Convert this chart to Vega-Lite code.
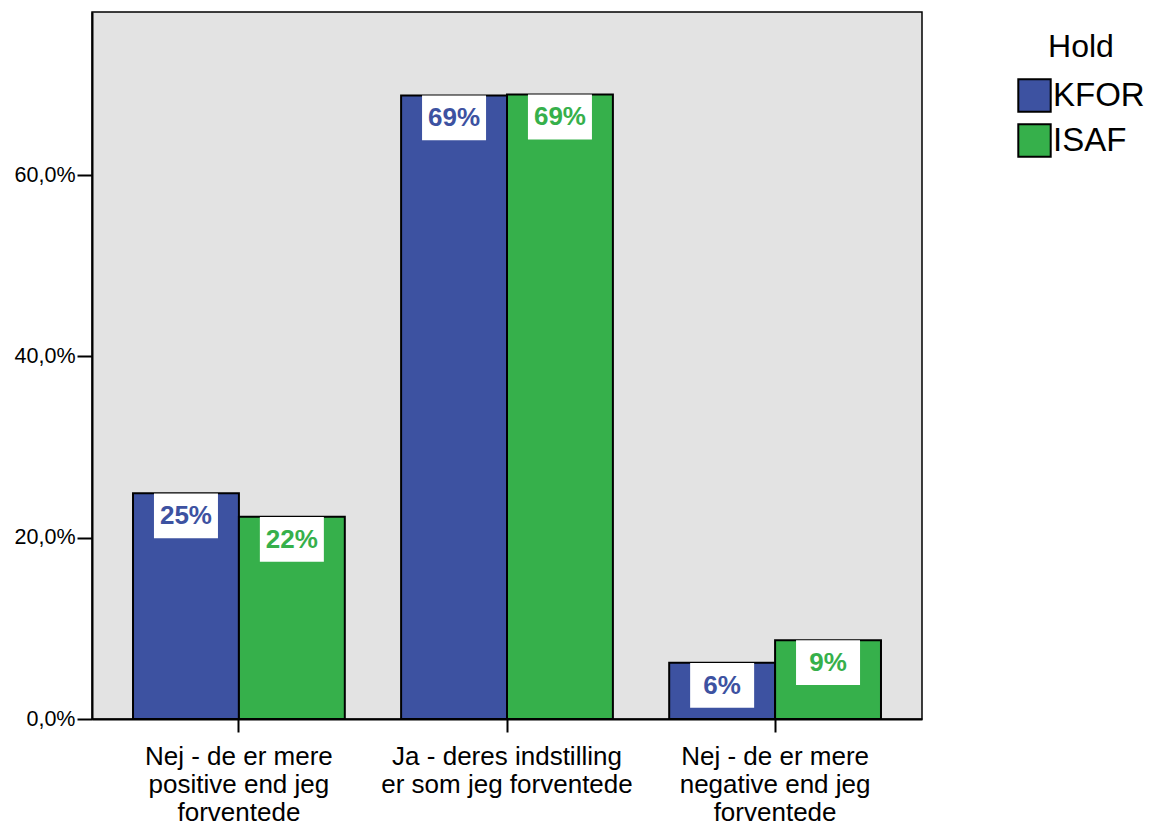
{
  "$schema": "https://vega.github.io/schema/vega-lite/v6.json",
  "autosize": "none",
  "width": 830,
  "height": 707,
  "padding": {"left": 92, "top": 12, "right": 230, "bottom": 106},
  "background": "white",
  "config": {
    "font": "Liberation Sans",
    "view": {"fill": "#E3E3E3", "stroke": "black", "strokeWidth": 1.5},
    "axis": {"grid": false, "domainColor": "black", "domainWidth": 2, "tickColor": "black", "tickWidth": 2, "labelColor": "black", "labelFont": "Liberation Sans", "title": null}
  },
  "data": {"values": [
    {"Svar": "Nej - de er mere positive end jeg forventede", "Hold": "KFOR", "Andel": 0.249},
    {"Svar": "Nej - de er mere positive end jeg forventede", "Hold": "ISAF", "Andel": 0.223},
    {"Svar": "Ja - deres indstilling er som jeg forventede", "Hold": "KFOR", "Andel": 0.688},
    {"Svar": "Ja - deres indstilling er som jeg forventede", "Hold": "ISAF", "Andel": 0.689},
    {"Svar": "Nej - de er mere negative end jeg forventede", "Hold": "KFOR", "Andel": 0.062},
    {"Svar": "Nej - de er mere negative end jeg forventede", "Hold": "ISAF", "Andel": 0.087}
  ]},
  "encoding": {
    "x": {"field": "Svar", "type": "nominal", "sort": null,
      "scale": {"paddingInner": 0.21, "paddingOuter": 0.153},
      "axis": {"labelAngle": 0, "tickSize": 13, "labelPadding": 11, "labelFontSize": 26, "labelLineHeight": 28, "labelBaseline": "top", "labelLimit": 400,
        "labelExpr": "datum.value == 'Nej - de er mere positive end jeg forventede' ? ['Nej - de er mere','positive end jeg','forventede'] : datum.value == 'Ja - deres indstilling er som jeg forventede' ? ['Ja - deres indstilling','er som jeg forventede'] : ['Nej - de er mere','negative end jeg','forventede']"}},
    "xOffset": {"field": "Hold", "type": "nominal", "scale": {"domain": ["KFOR", "ISAF"], "paddingInner": 0, "paddingOuter": 0}},
    "y": {"field": "Andel", "type": "quantitative", "scale": {"domain": [0, 0.78], "nice": false},
      "axis": {"values": [0, 0.2, 0.4, 0.6], "tickSize": 15, "labelFontSize": 21.5, "labelPadding": 2,
        "labelExpr": "replace(format(datum.value, '.1%'), '.', ',')"}}
  },
  "layer": [
    {
      "mark": {"type": "bar", "stroke": "black", "strokeWidth": 2},
      "encoding": {
        "color": {"field": "Hold", "type": "nominal",
          "scale": {"domain": ["KFOR", "ISAF"], "range": ["#3D52A1", "#36B04B"]},
          "legend": {"orient": "none", "legendX": 925, "legendY": 20, "title": "Hold", "titleFontSize": 32, "titleFontWeight": "normal", "titleColor": "black", "titleAnchor": "middle", "titlePadding": 14,
            "labelFontSize": 33, "labelColor": "black", "labelOffset": 1, "symbolType": "square", "symbolSize": 1050, "symbolStrokeColor": "black", "symbolStrokeWidth": 2, "symbolOpacity": 1, "rowPadding": 4}}
      }
    },
    {
      "mark": {"type": "point", "shape": "M-1,-0.7H1V0.7H-1Z", "size": 4096, "filled": true, "fill": "white", "opacity": 1, "strokeWidth": 0, "yOffset": 22.5},
      "encoding": {}
    },
    {
      "mark": {"type": "text", "fontSize": 26, "fontWeight": "bold", "baseline": "middle", "align": "center", "yOffset": 23},
      "encoding": {
        "text": {"field": "Andel", "type": "quantitative", "format": ".0%"},
        "color": {"field": "Hold", "type": "nominal", "scale": {"domain": ["KFOR", "ISAF"], "range": ["#3D52A1", "#36B04B"]}, "legend": null}
      }
    }
  ]
}
